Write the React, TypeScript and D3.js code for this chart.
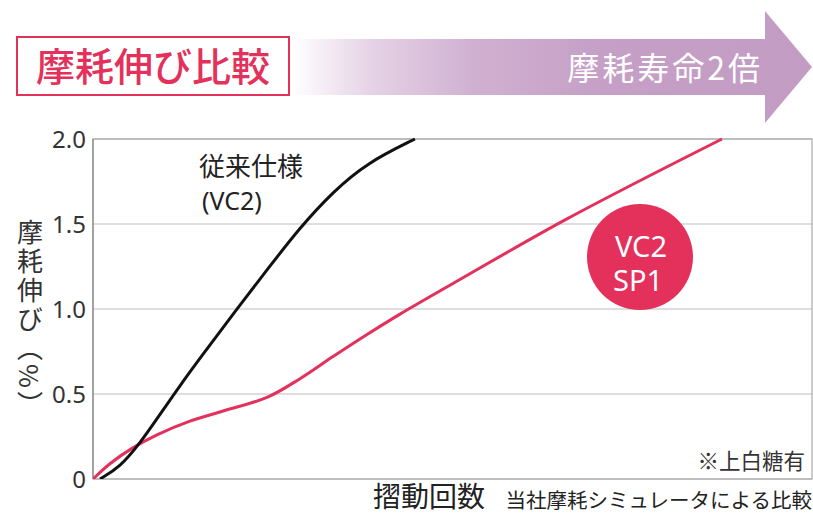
import React from "react";
import * as d3 from "d3";

const yTicks = [0, 0.5, 1.0, 1.5, 2.0];
const yTickLabels = ["0", "0.5", "1.0", "1.5", "2.0"];

// x: sliding count (relative, 0..100), y: wear elongation (%)
const conventionalX = [0.97, 3.76, 6.54, 9.32, 12.1, 14.88, 19.47, 24.2, 28.79, 33.38, 38.11, 44.78];
const conventionalY = [0, 0.07, 0.21, 0.38, 0.55, 0.71, 0.97, 1.23, 1.48, 1.69, 1.86, 2.0];

const sp1X = [0, 2.36, 5.42, 8.9, 13.49, 18.08, 24.2, 28.79, 33.38, 38.11, 42.7, 49.65, 65.92, 87.48];
const sp1Y = [0, 0.09, 0.18, 0.26, 0.34, 0.4, 0.48, 0.59, 0.72, 0.85, 0.97, 1.14, 1.53, 2.0];

const FONT = "'Noto Sans CJK JP', 'Noto Sans', sans-serif";
const LATIN = "'Noto Sans', 'Noto Sans CJK JP', sans-serif";
const RED = "#e3315b";

export default function App() {
  const left = 93, right = 812, top = 139, bottom = 479;
  const x = d3.scaleLinear().domain([0, 100]).range([left, right]);
  const y = d3.scaleLinear().domain([0, 2]).range([bottom, top]);
  const blackLine = d3
    .line<[number, number]>()
    .x((d) => x(d[0]))
    .y((d) => y(d[1]))
    .curve(d3.curveBasis);
  const redLine = d3
    .line<[number, number]>()
    .x((d) => x(d[0]))
    .y((d) => y(d[1]))
    .curve(d3.curveCatmullRom.alpha(0.5));
  const black = blackLine(conventionalX.map((v, i) => [v, conventionalY[i]]));
  const red = redLine(sp1X.map((v, i) => [v, sp1Y[i]]));

  return (
    <svg
      width={813}
      height={515}
      style={{ position: "absolute", left: 0, top: 0, background: "#fff" }}
      fontFamily={FONT}
    >
      <defs>
        <linearGradient id="arrowGrad" x1="292" x2="812" y1="0" y2="0" gradientUnits="userSpaceOnUse">
          <stop offset="0" stopColor="#ffffff" />
          <stop offset="0.15" stopColor="#e6d3e6" />
          <stop offset="0.35" stopColor="#d0b0d1" />
          <stop offset="0.6" stopColor="#c59fc6" />
          <stop offset="1" stopColor="#c39cc4" />
        </linearGradient>
        <clipPath id="plotClip">
          <rect x={left} y={top - 2} width={right - left} height={bottom - top + 2} />
        </clipPath>
      </defs>

      {/* arrow */}
      <path
        d="M292,39 L765,39 L765,11 L812,67 L765,123 L765,95 L292,95 Z"
        fill="url(#arrowGrad)"
      />
      <text x={763} y={80} fill="#fff" fontSize={32} textAnchor="end" letterSpacing={3}>
        摩耗寿命2倍
      </text>

      {/* title box */}
      <rect x={17} y={37} width={272} height={58} fill="#fff" stroke={RED} strokeWidth={2} />
      <text x={153} y={81} fill={RED} fontSize={39} fontWeight={500} textAnchor="middle">
        摩耗伸び比較
      </text>

      {/* grid */}
      {yTicks.map((t) => (
        <line key={t} x1={left} x2={right} y1={y(t)} y2={y(t)} stroke="#bdbdbd" strokeWidth={1.2} />
      ))}
      <rect x={left} y={top} width={right - left} height={bottom - top} fill="none" stroke="#a8a8a8" strokeWidth={1.2} />
      <line x1={left} x2={left} y1={top} y2={bottom} stroke="#888" strokeWidth={1.2} />

      {/* y tick labels */}
      {yTicks.map((t, i) => (
        <text key={t} x={86} y={y(t) + 8.5} fontSize={24} fill="#333" textAnchor="end" fontFamily={LATIN}>
          {yTickLabels[i]}
        </text>
      ))}

      {/* y title (vertical) */}
      <text
        x={30}
        y={219}
        fontSize={26}
        fill="#333"
        style={{ writingMode: "vertical-rl" } as React.CSSProperties}
        letterSpacing={3}
      >
        摩耗伸び（%）
      </text>

      {/* lines */}
      <g clipPath="url(#plotClip)">
        <path d={red ?? ""} fill="none" stroke={RED} strokeWidth={3} />
        <path d={black ?? ""} fill="none" stroke="#111" strokeWidth={3} />
      </g>

      {/* labels */}
      <text x={199} y={176} fontSize={26} fill="#222">
        従来仕様
      </text>
      <text x={202} y={210} fontSize={25} fill="#222" fontFamily={LATIN}>
        (VC2)
      </text>

      <circle cx={640} cy={257} r={53} fill={RED} />
      <text x={641} y={257} fontSize={29} fill="#fff" textAnchor="middle" fontFamily={LATIN}>
        VC2
      </text>
      <text x={638} y={291} fontSize={29} fill="#fff" textAnchor="middle" fontFamily={LATIN}>
        SP1
      </text>

      <text x={805} y={469} fontSize={21.5} fill="#333" textAnchor="end">
        ※上白糖有
      </text>

      {/* x title */}
      <text x={373} y={507} fontSize={28} fill="#222">
        摺動回数
      </text>
      <text x={812} y={508} fontSize={20.5} fill="#222" textAnchor="end">
        当社摩耗シミュレータによる比較
      </text>
    </svg>
  );
}
